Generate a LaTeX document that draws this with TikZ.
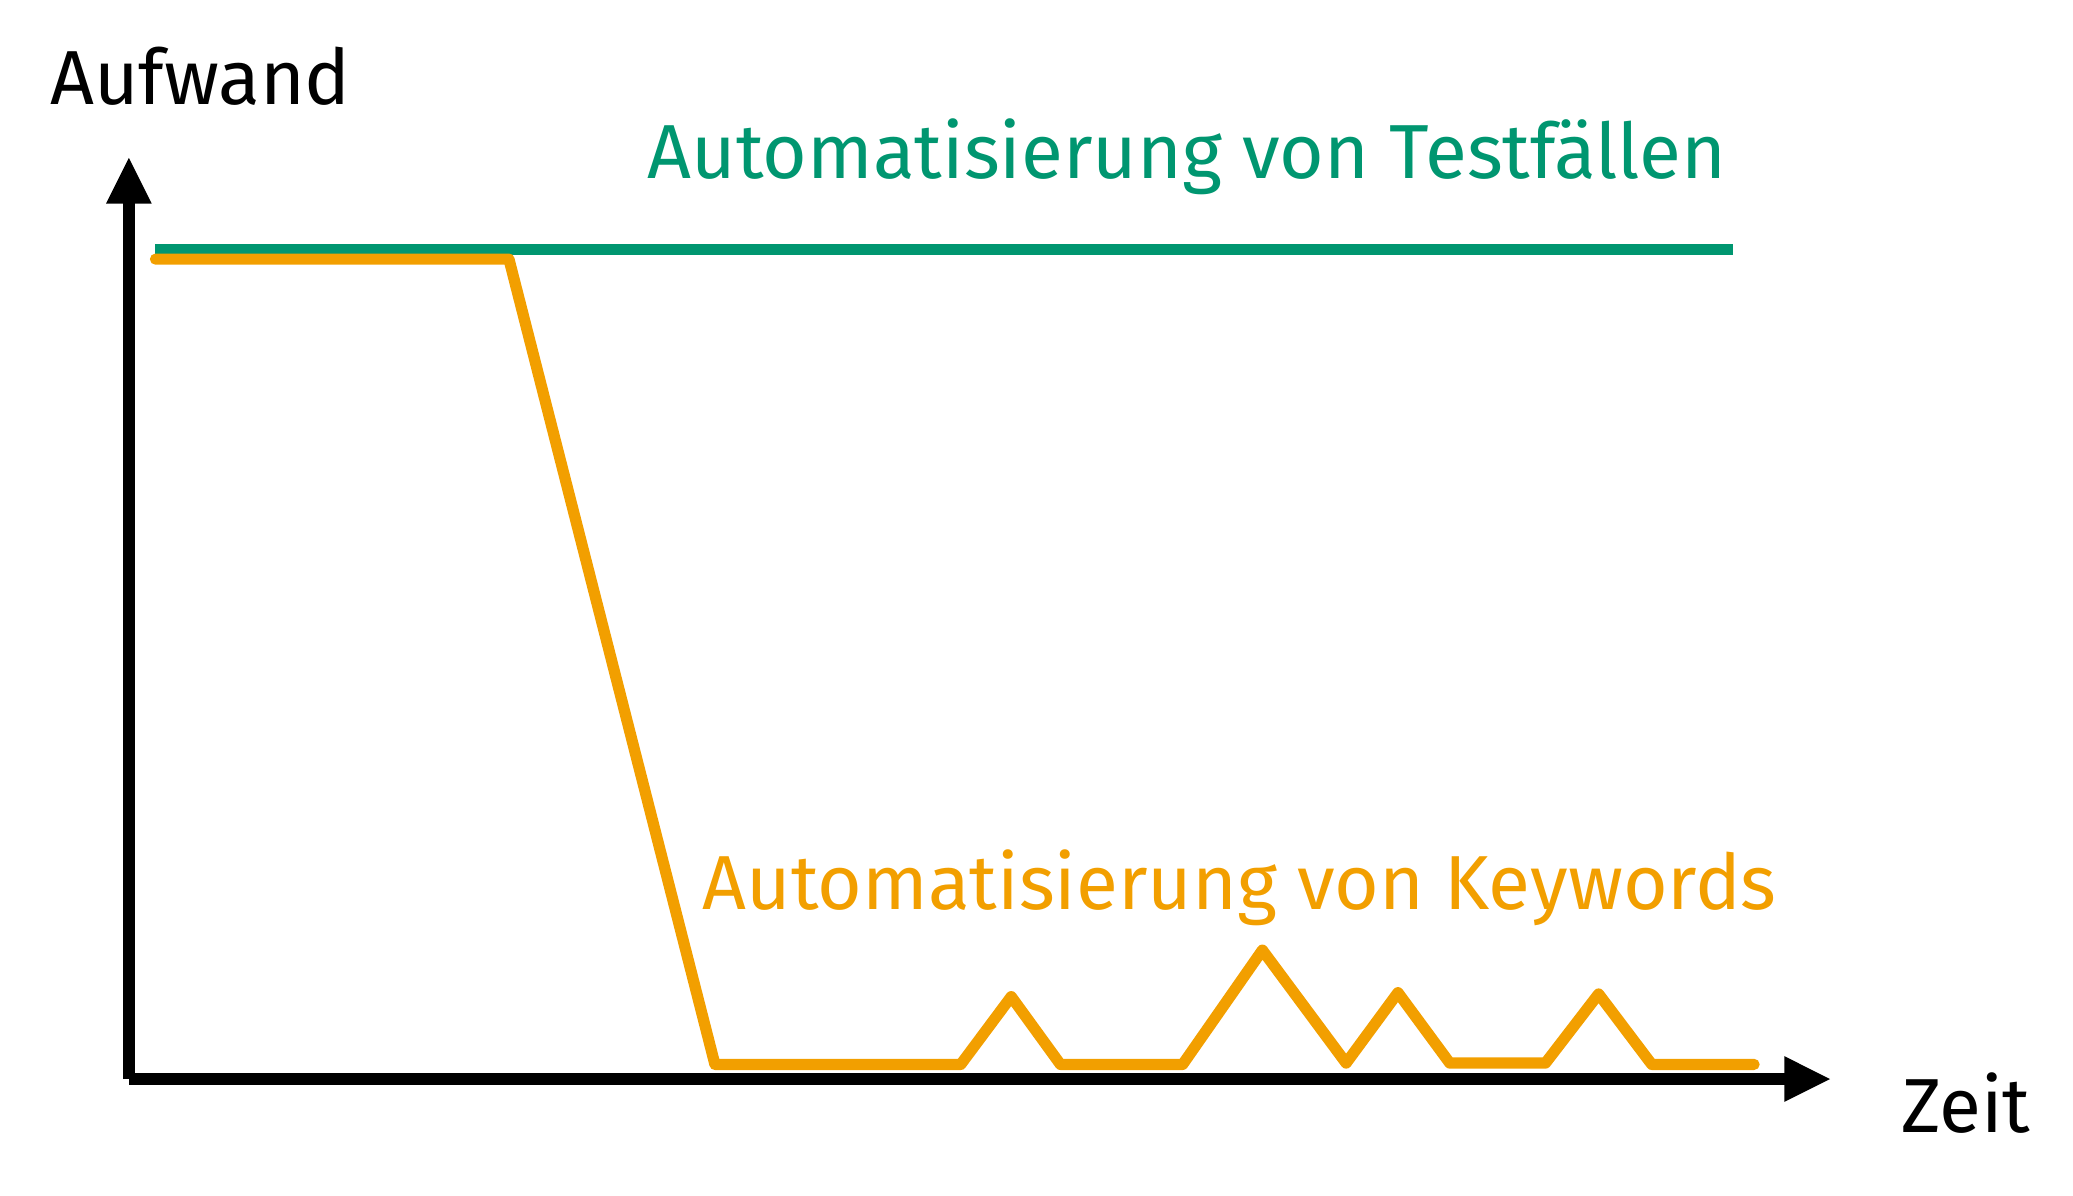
\documentclass[tikz,border=0pt]{standalone}
\usepackage{fontspec}
\setmainfont{Fira Sans}
\usetikzlibrary{arrows.meta}
\definecolor{grn}{HTML}{009670}
\definecolor{org}{HTML}{F29F00}
\begin{document}
\begin{tikzpicture}[x=0.01cm,y=-0.01cm,
  lbl/.style={inner sep=0pt,font=\fontsize{16.4}{20}\selectfont},
  axis/.style={line width=2.4pt,-{Triangle[length=10pt,width=9pt]}}]
\useasboundingbox (0,0) rectangle (1560,900);
\coordinate (o) at (97,812);
\coordinate (ytip) at (97,118);
\coordinate (xtip) at (1378,812);
\draw[axis] (o) -- (ytip);
\draw[axis] (o) -- (xtip);
\draw[grn,line width=2.4pt] (117,188) coordinate (g1) -- (1304,188) coordinate (g2);
\draw[org,line width=2.4pt,line cap=round,line join=round]
 (117,195)--(383,195)--(538,801)--(723,801)--(761,750)--(798,801)--(890,801)--(950,715)--(1013,800)--(1052,747)--(1091,800)--(1163,800)--(1203,748)--(1243,801)--(1320,801);
\node[lbl,anchor=west] (auf) at (37,57) {Aufwand};
\node[lbl,anchor=east,text=grn] (tf) at (1300,118) {Automatisierung von Testfällen};
\node[lbl,anchor=west,text=org] (kw) at (528,668) {Automatisierung von Keywords};
\node[lbl,anchor=west] (zeit) at (1430,830) {Zeit};
\end{tikzpicture}
\end{document}
